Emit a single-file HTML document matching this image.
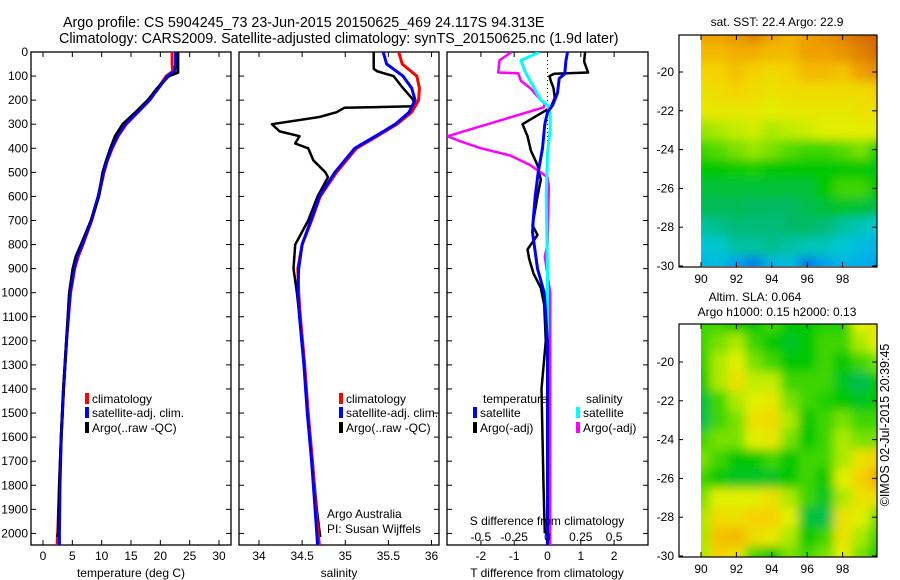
<!DOCTYPE html>
<html><head><meta charset="utf-8"><style>
html,body{margin:0;padding:0;background:#fff;}
svg{display:block;font-family:"Liberation Sans",sans-serif;}
text{font-size:12px;fill:#000;}
.t{font-size:14.3px;}
</style></head><body>
<svg id="fig" width="900" height="580" viewBox="0 0 900 580">
<defs>
<filter id="blur" x="0" y="0" width="1" height="1"><feGaussianBlur stdDeviation="5" edgeMode="duplicate"/></filter>
<clipPath id="c1"><rect x="701" y="35" width="176" height="231"/></clipPath>
<clipPath id="c2"><rect x="701" y="324" width="176" height="233"/></clipPath>
<clipPath id="p1"><rect x="31" y="52" width="200" height="493"/></clipPath>
<clipPath id="p2"><rect x="239" y="52" width="200" height="493"/></clipPath>
<clipPath id="p3"><rect x="447" y="52" width="201" height="493"/></clipPath>
</defs>
<text class="t" x="63" y="27">Argo profile: CS 5904245_73 23-Jun-2015 20150625_469 24.117S 94.313E</text>
<text class="t" x="59" y="43">Climatology: CARS2009. Satellite-adjusted climatology: synTS_20150625.nc (1.9d later)</text>
<g id="g1"></g>
<g id="g2"></g>
<g id="g3"></g>
<g id="g4"></g>
<g id="g5"></g>
<text x="897" y="433" transform="rotate(-90 889 433)" text-anchor="middle" style="font-size:12.5px">©IMOS 02-Jul-2015 20:39:45</text>
</svg>
<script>
// ---- temperature profiles (depth m, deg C)
const tDepth = [0,50,80,100,150,200,250,300,350,400,450,500,600,700,800,850,900,1000,1200,1400,1600,1800,2000,2050];
const tClim = [22.0,22.0,22.1,21.0,19.6,18.2,16.2,14.2,12.8,11.8,11.0,10.4,9.5,8.3,6.8,6.0,5.4,4.7,4.0,3.5,3.1,2.8,2.5,2.4];
const tSat = [22.6,22.6,22.4,21.2,19.7,18.1,16.1,14.0,12.7,11.7,10.9,10.3,9.4,8.2,6.7,5.8,5.3,4.6,4.0,3.5,3.1,2.9,2.8,2.8];
const tArgoDepth = [0,50,85,100,150,200,250,300,350,400,450,500,600,700,800,850,900,1000,1200,1400,1600,1800,2000,2015];
const tArgo = [23.0,23.0,23.0,21.4,19.5,17.9,15.8,13.6,12.3,11.5,10.8,10.2,9.5,8.2,6.5,5.6,5.1,4.5,4.0,3.5,3.1,2.8,2.6,2.4];
// ---- salinity profiles
const sDepth = [0,50,100,150,200,250,300,350,400,500,600,700,800,900,1000,1100,1300,1500,1700,1900,2050];
const sClim = [35.62,35.66,35.83,35.86,35.85,35.77,35.6,35.37,35.13,34.9,34.71,34.61,34.5,34.45,34.46,34.48,34.53,34.57,34.62,34.66,34.7];
const sSat = [35.44,35.48,35.67,35.77,35.81,35.74,35.58,35.35,35.11,34.88,34.7,34.6,34.5,34.46,34.45,34.47,34.52,34.56,34.61,34.65,34.68];
const sArgoDepth = [0,70,80,100,150,200,225,232,250,270,300,330,350,380,400,450,500,520,600,700,800,900,1000,1100,1300,1500,1700,1900,2015];
const sArgo = [35.33,35.33,35.37,35.56,35.67,35.79,35.8,34.99,34.9,34.7,34.15,34.24,34.47,34.42,34.57,34.63,34.77,34.8,34.68,34.57,34.42,34.4,34.44,34.47,34.52,34.57,34.62,34.67,34.71];
// ---- differences from climatology
const dtSatDepth = [0,40,90,110,170,220,250,300,400,500,600,700,750,800,900,1000,1100,1200,1500,2050];
const dtSat = [0.6,0.55,0.52,0.35,0.3,0.16,0.0,-0.08,-0.15,-0.28,-0.37,-0.43,-0.45,-0.4,-0.3,-0.1,-0.05,0.0,0.0,0.0];
const dtArgoDepth = [0,40,85,90,100,120,150,190,230,300,350,410,470,530,600,720,760,820,860,920,980,1050,1200,1400,1600,1800,2000];
const dtArgo = [1.13,1.1,1.22,0.2,0.06,0.1,0.18,0.22,0.1,-0.75,-0.6,-0.5,-0.3,-0.2,-0.3,-0.45,-0.3,-0.6,-0.55,-0.42,-0.2,-0.1,-0.05,-0.18,-0.15,-0.12,-0.08];
const dsSatDepth = [0,35,80,120,200,220,260,320,420,600,900,1500,2050];
const dsSat = [-0.06,-0.2,-0.17,-0.13,-0.05,0.0,0.02,0.02,0.0,-0.01,0.0,0.0,0.0];
const dsArgoDepth = [0,35,85,88,120,150,200,215,230,350,370,400,430,470,520,560,800,850,1000,1500,2050];
const dsArgo = [-0.27,-0.36,-0.37,-0.22,-0.2,-0.13,-0.05,-0.02,-0.03,-0.75,-0.66,-0.5,-0.28,-0.13,0.0,0.01,0.0,-0.02,0.02,0.02,0.02];
// ---- maps (rows lat -18..-30, cols lon 90..100), normalized colour value
const mapLat = [-18,-19,-20,-21,-22,-23,-24,-25,-26,-27,-28,-29,-30];
const mapLon = [90,91,92,93,94,95,96,97,98,99,100];
const sstGrid = [
[0.85,0.85,0.87,0.9,0.85,0.82,0.85,0.88,0.9,0.93,0.95],
[0.8,0.8,0.82,0.82,0.8,0.8,0.85,0.85,0.87,0.9,0.93],
[0.75,0.75,0.78,0.75,0.73,0.75,0.8,0.8,0.78,0.85,0.88],
[0.7,0.72,0.75,0.72,0.7,0.72,0.72,0.72,0.72,0.72,0.75],
[0.68,0.68,0.68,0.68,0.66,0.68,0.68,0.68,0.68,0.7,0.7],
[0.58,0.6,0.62,0.63,0.6,0.62,0.63,0.65,0.66,0.66,0.66],
[0.5,0.52,0.55,0.58,0.55,0.52,0.5,0.5,0.52,0.55,0.48],
[0.45,0.45,0.46,0.47,0.45,0.45,0.45,0.45,0.45,0.45,0.43],
[0.4,0.4,0.4,0.4,0.4,0.4,0.4,0.45,0.5,0.5,0.45],
[0.37,0.37,0.37,0.36,0.36,0.36,0.38,0.4,0.42,0.4,0.38],
[0.3,0.32,0.34,0.34,0.34,0.35,0.36,0.34,0.3,0.28,0.25],
[0.24,0.26,0.3,0.3,0.32,0.3,0.28,0.28,0.25,0.22,0.2],
[0.2,0.22,0.15,0.1,0.2,0.22,0.1,0.15,0.2,0.18,0.15]];
const slaGrid = [
[0.5,0.5,0.45,0.45,0.5,0.45,0.45,0.48,0.48,0.65,0.7],
[0.5,0.55,0.6,0.5,0.45,0.42,0.45,0.5,0.5,0.6,0.65],
[0.48,0.6,0.65,0.55,0.5,0.45,0.45,0.5,0.45,0.5,0.55],
[0.45,0.6,0.7,0.62,0.62,0.5,0.5,0.5,0.42,0.38,0.45],
[0.4,0.5,0.6,0.65,0.68,0.55,0.5,0.48,0.45,0.42,0.45],
[0.38,0.5,0.55,0.7,0.72,0.6,0.45,0.5,0.55,0.5,0.5],
[0.5,0.55,0.55,0.65,0.68,0.55,0.45,0.5,0.6,0.55,0.55],
[0.55,0.5,0.45,0.45,0.5,0.45,0.5,0.5,0.6,0.7,0.75],
[0.5,0.45,0.42,0.42,0.42,0.45,0.5,0.45,0.65,0.75,0.82],
[0.55,0.65,0.65,0.65,0.7,0.6,0.5,0.42,0.6,0.7,0.7],
[0.6,0.72,0.7,0.75,0.75,0.65,0.4,0.38,0.7,0.65,0.55],
[0.6,0.78,0.8,0.72,0.68,0.6,0.45,0.5,0.7,0.6,0.5],
[0.6,0.75,0.7,0.5,0.45,0.55,0.5,0.55,0.65,0.55,0.45]];
const depthTicks = [0,100,200,300,400,500,600,700,800,900,1000,1100,1200,1300,1400,1500,1600,1700,1800,1900,2000];
const tempTicks = [0,5,10,15,20,25,30];
const salTicks = [34,34.5,35,35.5,36];
const dtTicks = [-2,-1,0,1,2];
const dsTickLabels = ['-0.5','-0.25','0','0.25','0.5'];
const lonTicks = [90,92,94,96,98];
const latTicks = [-20,-22,-24,-26,-28,-30];

const NS='http://www.w3.org/2000/svg';
function mk(tag,attrs,parent){const e=document.createElementNS(NS,tag);for(const k in attrs)e.setAttribute(k,attrs[k]);parent.appendChild(e);return e;}
const Y = d => 52 + d*0.2407;
const xT = v => 43 + v*5.867;
const xS = v => 259 + (v-34)*86.25;
const xDT = v => 547.5 + v*33.3;
const xDS = v => 547.5 + v*133.2;

function frame(g,x0,x1,name){
  const r=mk('rect',{x:x0,y:52,width:x1-x0,height:493,fill:'none',stroke:'#000','stroke-width':1.3},g);
  
  
  depthTicks.forEach(d=>{
    mk('line',{x1:x0,x2:x0+5,y1:Y(d),y2:Y(d),stroke:'#000'},g);
    mk('line',{x1:x1-5,x2:x1,y1:Y(d),y2:Y(d),stroke:'#000'},g);
  });
}
function xticks(g,ticks,fx,labels,name){
  ticks.forEach((v,i)=>{
    const x=fx(v);
    mk('line',{x1:x,x2:x,y1:52,y2:57,stroke:'#000'},g);
    mk('line',{x1:x,x2:x,y1:540,y2:545,stroke:'#000'},g);
    const t=mk('text',{x:x,y:560,'text-anchor':'middle'},g);
    t.textContent=labels?labels[i]:String(v);
    
    
  });
}
function line(g,depths,vals,fx,color,w,clip,name){
  const pts=depths.map((d,i)=>fx(vals[i]).toFixed(1)+','+Y(d).toFixed(1)).join(' ');
  const p=mk('polyline',{points:pts,fill:'none',stroke:color,'stroke-width':w,'clip-path':'url(#'+clip+')','stroke-linejoin':'round'},g);
  
  
}
function legend(g,x,y,color,label,name){
  mk('rect',{x:x,y:y-6,width:4,height:11,fill:color},g);
  const t=mk('text',{x:x+7,y:y+4},g);t.textContent=label;
  
  
}
function txt(g,x,y,s,anchor,name){const t=mk('text',{x:x,y:y,'text-anchor':anchor||'start'},g);t.textContent=s;
  
  return t;}

// Panel 1
const g1=document.getElementById('g1');
frame(g1,31,231,'temperature-axes');
depthTicks.forEach(d=>{const t=txt(g1,28,Y(d)+4,String(d),'end','depth-tick-label');});
xticks(g1,tempTicks,xT,null,'temperature');
line(g1,tDepth,tClim,xT,'#ff0000',3,'p1','temperature-climatology-line');
line(g1,tDepth,tSat,xT,'#0000ff',3,'p1','temperature-satellite-line');
line(g1,tArgoDepth,tArgo,xT,'#000',3,'p1','temperature-argo-line');
line(g1,tDepth,tSat,xT,'#0000ff',2,'p1','temperature-satellite-line-top');
legend(g1,85,399,'#ff0000','climatology','legend-climatology');
legend(g1,85,413,'#0000ff','satellite-adj. clim.','legend-satellite');
legend(g1,85,428,'#000','Argo(..raw -QC)','legend-argo');
txt(g1,131,577,'temperature (deg C)','middle','temperature-axis-title');

// Panel 2
const g2=document.getElementById('g2');
frame(g2,239,439,'salinity-axes');
xticks(g2,salTicks,xS,null,'salinity');
line(g2,sArgoDepth,sArgo,xS,'#000',2.5,'p2','salinity-argo-line');
line(g2,sDepth,sClim,xS,'#ff0000',3,'p2','salinity-climatology-line');
line(g2,sDepth,sSat,xS,'#0000ff',3,'p2','salinity-satellite-line');
legend(g2,339,399,'#ff0000','climatology','legend-climatology');
legend(g2,339,413,'#0000ff','satellite-adj. clim.','legend-satellite');
legend(g2,339,428,'#000','Argo(..raw -QC)','legend-argo');
txt(g2,327,518,'Argo Australia','start','argo-australia-note');
txt(g2,327,533,'PI: Susan Wijffels','start','pi-note');
txt(g2,339,577,'salinity','middle','salinity-axis-title');

// Panel 3
const g3=document.getElementById('g3');
frame(g3,447,648,'difference-axes');
xticks(g3,dtTicks,xDT,null,'t-difference');
mk('line',{x1:xDT(0),x2:xDT(0),y1:52,y2:545,stroke:'#000','stroke-dasharray':'1,3'},g3);
line(g3,dtArgoDepth,dtArgo,xDT,'#000',2.5,'p3','t-diff-argo-line');
line(g3,dsArgoDepth,dsArgo,xDS,'#ff00ff',2.5,'p3','s-diff-argo-line');
line(g3,dsSatDepth,dsSat,xDS,'#00ffff',3,'p3','s-diff-satellite-line');
line(g3,dtSatDepth,dtSat,xDT,'#0000ff',3,'p3','t-diff-satellite-line');
txt(g3,483,403,'temperature','start','legend-temperature-header');
txt(g3,586,403,'salinity','start','legend-salinity-header');
legend(g3,473,413,'#0000ff','satellite','legend-t-satellite');
legend(g3,473,428,'#000','Argo(-adj)','legend-t-argo');
legend(g3,576,413,'#00ffff','satellite','legend-s-satellite');
legend(g3,576,428,'#ff00ff','Argo(-adj)','legend-s-argo');
txt(g3,547,525,'S difference from climatology','middle','s-difference-axis-title');
dtTicks.forEach((v,i)=>{txt(g3,xDT(v),541,dsTickLabels[i],'middle','s-difference-tick-label');});
txt(g3,547,577,'T difference from climatology','middle','t-difference-axis-title');

// Maps
const pal=[[0,[0,60,210]],[0.15,[0,160,240]],[0.25,[0,200,215]],[0.35,[0,185,110]],[0.45,[0,200,0]],[0.55,[120,225,0]],[0.65,[225,240,0]],[0.75,[245,210,0]],[0.85,[240,160,0]],[1,[190,70,0]]];
function col(v){for(let i=1;i<pal.length;i++){if(v<=pal[i][0]){const a=pal[i-1],b=pal[i];const f=(v-a[0])/(b[0]-a[0]);const c=a[1].map((x,k)=>Math.round(x+(b[1][k]-x)*f));return 'rgb('+c.join(',')+')';}}return 'rgb(190,70,0)';}
function map(g,top,y20,grid,clip,name){
  const lx=v=>701+(v-90)*17.7, ly=v=>y20+(-20-v)*19.4;
  mk('rect',{x:679,y:top,width:198,height:(ly(-30)+1)-top,fill:'#fff'},g);
  const cg=mk('g',{'clip-path':'url(#'+clip+')'},g);
  const bg=mk('g',{filter:'url(#blur)'},cg);
  grid.forEach((row,r)=>row.forEach((v,c)=>{
    const cell=mk('rect',{x:lx(mapLon[c]-0.5),y:ly(mapLat[r]+0.5),width:18.2,height:19.9,fill:col(v)},bg);
    
    
  }));
  const fr=mk('rect',{x:679,y:top,width:198,height:ly(-30)+1-top,fill:'none',stroke:'#000','stroke-width':1.2},g);
  
  
  lonTicks.forEach(v=>{mk('line',{x1:lx(v),x2:lx(v),y1:top,y2:top+5,stroke:'#000'},g);
    mk('line',{x1:lx(v),x2:lx(v),y1:ly(-30)-4,y2:ly(-30)+1,stroke:'#000'},g);
    txt(g,lx(v),ly(-30)+17,String(v),'middle',name+'-lon-label');});
  latTicks.forEach(v=>{mk('line',{x1:877,x2:872,y1:ly(v),y2:ly(v),stroke:'#000'},g);
    mk('line',{x1:679,x2:683,y1:ly(v),y2:ly(v),stroke:'#000'},g);
    txt(g,674,ly(v)+4,String(v),'end',name+'-lat-label');});
}
const g4=document.getElementById('g4');
map(g4,35,72,sstGrid,'c1','sst-map');
txt(g4,777,26,'sat. SST: 22.4  Argo: 22.9','middle','sst-map-title');
const g5=document.getElementById('g5');
map(g5,324,362,slaGrid,'c2','sla-map');
txt(g5,755,301,'Altim. SLA: 0.064','middle','sla-map-title');
txt(g5,777,316,'Argo h1000: 0.15 h2000: 0.13','middle','sla-map-subtitle');
</script>
</body></html>
